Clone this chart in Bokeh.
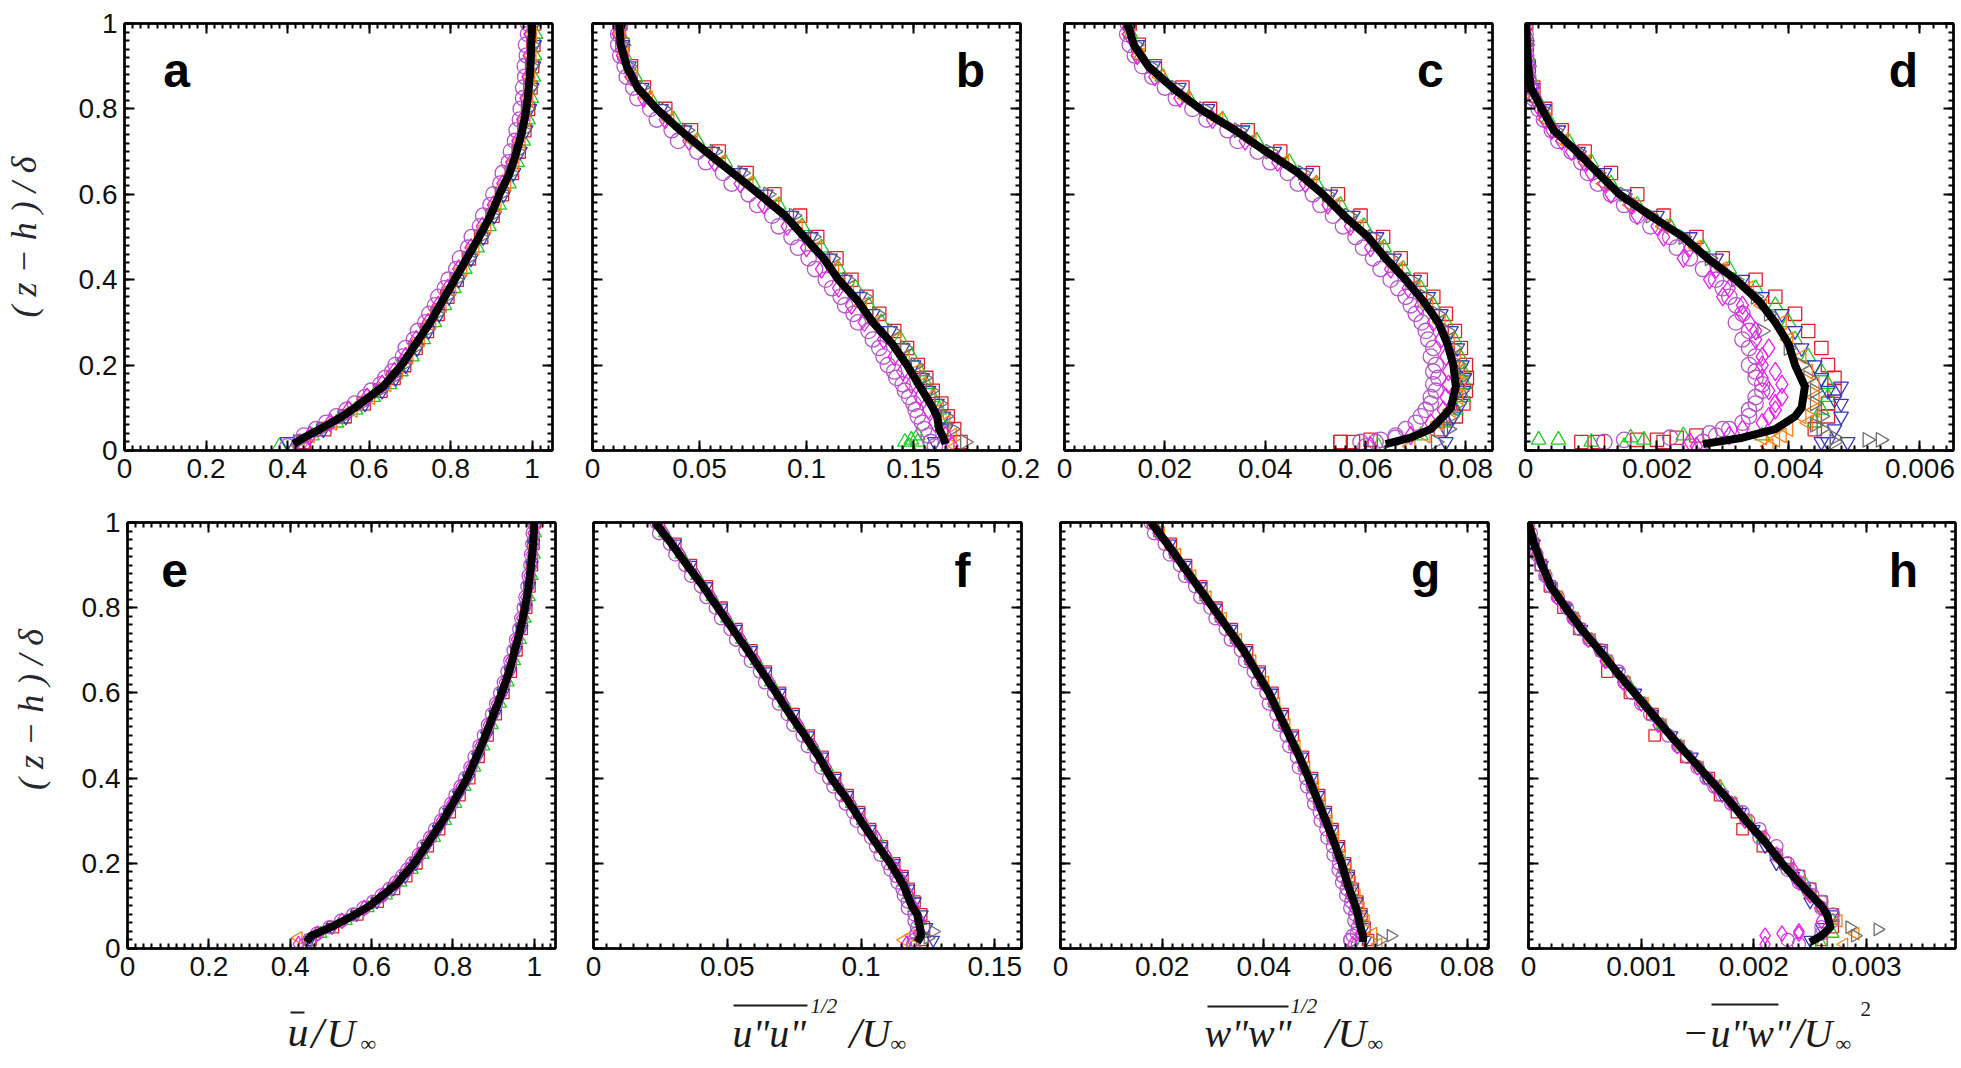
import math
from bokeh.plotting import figure
from bokeh.layouts import row, column
from bokeh.models import Range1d, LinearAxis, FixedTicker, CustomJSTickFormatter
from bokeh.core.properties import value
from bokeh.embed import file_html
from bokeh.resources import INLINE

# ------------------------------------------------------------------ data
Y_TICKS = [0, 0.2, 0.4, 0.6, 0.8, 1.0]
A_XTICKS = [0, 0.2, 0.4, 0.6, 0.8, 1.0]
B_XTICKS = [0, 0.05, 0.1, 0.15, 0.2]
C_XTICKS = [0, 0.02, 0.04, 0.06, 0.08]
D_XTICKS = [0, 0.002, 0.004, 0.006]
E_XTICKS = [0, 0.2, 0.4, 0.6, 0.8, 1.0]
F_XTICKS = [0, 0.05, 0.1, 0.15]
G_XTICKS = [0, 0.02, 0.04, 0.06, 0.08]
H_XTICKS = [0, 0.001, 0.002, 0.003]

Y_LABEL = "( z − h ) / δ"

# mean profile (thick black line), heights
Y_MEAN = [0.015, 0.03, 0.05, 0.08, 0.1, 0.15, 0.2, 0.25, 0.3, 0.35, 0.4, 0.45,
          0.5, 0.55, 0.6, 0.65, 0.7, 0.75, 0.8, 0.85, 0.9, 0.95, 1.0]
A_MEAN = [0.415, 0.44, 0.48, 0.535, 0.565, 0.635, 0.68, 0.715, 0.75, 0.78, 0.81, 0.84,
          0.87, 0.898, 0.92, 0.945, 0.962, 0.976, 0.986, 0.992, 0.996, 0.998, 1.0]
B_MEAN = [0.165, 0.164, 0.162, 0.161, 0.159, 0.153, 0.147, 0.14, 0.131, 0.124, 0.115, 0.108,
          0.099, 0.09, 0.078, 0.0655, 0.053, 0.041, 0.03, 0.021, 0.016, 0.0132, 0.0125]
C_MEAN = [0.064, 0.069, 0.073, 0.0755, 0.077, 0.078, 0.0775, 0.0763, 0.0745, 0.0715, 0.068, 0.064,
          0.0605, 0.0557, 0.0515, 0.0466, 0.0402, 0.034, 0.027, 0.0215, 0.0167, 0.0138, 0.0126]
D_MEAN = [0.0027, 0.0033, 0.0038, 0.0041, 0.0042, 0.00425, 0.0041, 0.004, 0.0038, 0.00355, 0.0032, 0.00277,
          0.0024, 0.0019, 0.00143, 0.0011, 0.00078, 0.00043, 0.00025, 0.00008, 0.00004, 0.00002, 0.00001]
E_MEAN = [0.44, 0.452, 0.5, 0.56, 0.595, 0.66, 0.705, 0.74, 0.775, 0.805, 0.835, 0.858,
          0.88, 0.9, 0.92, 0.938, 0.952, 0.966, 0.977, 0.986, 0.992, 0.997, 1.0]
F_MEAN = [0.121, 0.1225, 0.122, 0.121, 0.119, 0.1158, 0.111, 0.1053, 0.0999, 0.0948, 0.0889, 0.0842,
          0.079, 0.0734, 0.0683, 0.063, 0.0576, 0.052, 0.0465, 0.041, 0.035, 0.0292, 0.023]
G_MEAN = [0.0595, 0.0595, 0.059, 0.0585, 0.058, 0.0565, 0.0553, 0.0538, 0.0522, 0.0505, 0.0488, 0.047,
          0.045, 0.043, 0.041, 0.0385, 0.036, 0.033, 0.03, 0.027, 0.024, 0.021, 0.0178]
H_MEAN = [0.0025, 0.0026, 0.00268, 0.00265, 0.0026, 0.00242, 0.00225, 0.0021, 0.00193, 0.00177, 0.0016, 0.00143,
          0.00126, 0.0011, 0.00094, 0.00078, 0.00063, 0.00047, 0.00033, 0.0002, 0.00012, 0.00005, 0.0]

# heights of the individual-profile symbols
YS1 = [0.02, 0.05, 0.08, 0.11, 0.14, 0.17, 0.2, 0.24, 0.28, 0.32, 0.36, 0.4,
       0.45, 0.5, 0.55, 0.6, 0.65, 0.7, 0.75, 0.8, 0.85, 0.9, 0.95, 1.0]
YS2 = [0.01, 0.035, 0.065, 0.095, 0.125, 0.155, 0.185, 0.22, 0.26, 0.3, 0.34, 0.38,
       0.425, 0.475, 0.525, 0.575, 0.625, 0.675, 0.725, 0.775, 0.825, 0.875, 0.925, 0.975]

# panel a
A_CIRC = [0.43, 0.47, 0.52, 0.565, 0.605, 0.64, 0.665, 0.69, 0.72, 0.748, 0.77, 0.795,
          0.823, 0.852, 0.88, 0.905, 0.928, 0.948, 0.962, 0.972, 0.978, 0.982, 0.985, 0.99]
A_CIRC2 = [0.40, 0.44, 0.495, 0.545, 0.59, 0.628, 0.657, 0.683, 0.71, 0.738, 0.762, 0.786,
           0.814, 0.843, 0.872, 0.898, 0.922, 0.943, 0.958, 0.97, 0.978, 0.983, 0.987, 0.99]
A_DIAM = [0.44, 0.455, 0.505, 0.55, 0.595, 0.632, 0.662, 0.69, 0.716, 0.745, 0.77, 0.793,
          0.82, 0.85, 0.878, 0.905, 0.928, 0.95, 0.965, 0.977, 0.985, 0.99, 0.993, 0.995]
A_SQ = [0.44, 0.49, 0.54, 0.587, 0.628, 0.66, 0.686, 0.714, 0.742, 0.768, 0.792, 0.815,
        0.845, 0.875, 0.903, 0.926, 0.95, 0.967, 0.981, 0.99, 0.996, 1.0, 1.003, 1.005]
A_UP = [0.38, 0.46, 0.52, 0.567, 0.61, 0.65, 0.678, 0.705, 0.733, 0.76, 0.785, 0.808,
        0.835, 0.865, 0.894, 0.919, 0.943, 0.963, 0.978, 0.99, 0.998, 1.003, 1.006, 1.008]
A_DN = [0.4, 0.488, 0.543, 0.59, 0.632, 0.665, 0.69, 0.718, 0.746, 0.772, 0.796, 0.82,
        0.85, 0.88, 0.907, 0.93, 0.954, 0.97, 0.984, 0.993, 0.999, 1.003, 1.005, 1.006]
A_LT = [0.43, 0.455, 0.51, 0.56, 0.603, 0.643, 0.671, 0.697, 0.725, 0.753, 0.778, 0.802,
        0.829, 0.859, 0.888, 0.913, 0.937, 0.957, 0.972, 0.984, 0.991, 0.996, 0.999, 1.0]
A_RT = [0.425, 0.483, 0.538, 0.583, 0.625, 0.658, 0.683, 0.711, 0.739, 0.765, 0.789, 0.813,
        0.843, 0.873, 0.9, 0.923, 0.947, 0.964, 0.978, 0.988, 0.994, 0.998, 1.0, 1.002]

# panel b
B_CIRC = [0.158, 0.155, 0.152, 0.15, 0.146, 0.142, 0.138, 0.134, 0.129, 0.122, 0.116, 0.109,
          0.101, 0.093, 0.084, 0.073, 0.061, 0.049, 0.037, 0.027, 0.019, 0.015, 0.012, 0.013]
B_CIRC2 = [0.16, 0.157, 0.154, 0.151, 0.148, 0.145, 0.141, 0.136, 0.131, 0.124, 0.118, 0.112,
           0.104, 0.096, 0.087, 0.077, 0.065, 0.053, 0.04, 0.03, 0.021, 0.016, 0.013, 0.012]
B_DIAM = [0.168, 0.165, 0.16, 0.157, 0.153, 0.149, 0.145, 0.141, 0.136, 0.127, 0.121, 0.115,
          0.107, 0.1, 0.091, 0.08, 0.069, 0.057, 0.045, 0.034, 0.024, 0.018, 0.014, 0.012]
B_SQ = [0.172, 0.169, 0.166, 0.163, 0.159, 0.156, 0.152, 0.147, 0.141, 0.134, 0.128, 0.121,
        0.114, 0.105, 0.097, 0.085, 0.072, 0.059, 0.046, 0.034, 0.024, 0.018, 0.014, 0.013]
B_UP = [0.148, 0.152, 0.163, 0.162, 0.159, 0.156, 0.153, 0.149, 0.144, 0.135, 0.129, 0.123,
        0.115, 0.107, 0.098, 0.087, 0.075, 0.062, 0.049, 0.038, 0.027, 0.02, 0.015, 0.013]
B_DN = [0.16, 0.165, 0.164, 0.161, 0.157, 0.154, 0.15, 0.145, 0.139, 0.131, 0.125, 0.118,
        0.111, 0.102, 0.093, 0.081, 0.069, 0.056, 0.043, 0.032, 0.023, 0.017, 0.014, 0.013]
B_LT = [0.17, 0.168, 0.165, 0.162, 0.158, 0.154, 0.151, 0.146, 0.142, 0.132, 0.126, 0.12,
        0.113, 0.105, 0.096, 0.085, 0.073, 0.06, 0.047, 0.036, 0.026, 0.019, 0.015, 0.013]
B_RT = [0.174, 0.168, 0.165, 0.162, 0.158, 0.155, 0.151, 0.146, 0.14, 0.133, 0.127, 0.119,
        0.112, 0.103, 0.094, 0.082, 0.07, 0.057, 0.044, 0.033, 0.023, 0.017, 0.014, 0.013]
B_UP_BOT_X = [0.146, 0.149, 0.152]
B_UP_BOT_Y = [0.02, 0.025, 0.02]

# panel c
C_CIRC = [0.062, 0.068, 0.071, 0.073, 0.074, 0.0745, 0.074, 0.0735, 0.072, 0.07, 0.068, 0.065,
          0.0615, 0.058, 0.0535, 0.0495, 0.0445, 0.0385, 0.0325, 0.0255, 0.02, 0.0155, 0.013, 0.0126]
C_CIRC2 = [0.06, 0.066, 0.07, 0.072, 0.073, 0.0735, 0.0735, 0.073, 0.0725, 0.0712, 0.069, 0.0665,
           0.063, 0.0595, 0.0555, 0.051, 0.0465, 0.041, 0.0345, 0.0283, 0.0222, 0.0175, 0.014, 0.0125]
C_DIAM = [0.061, 0.069, 0.073, 0.0755, 0.076, 0.0765, 0.0765, 0.076, 0.075, 0.0735, 0.071, 0.0685,
          0.065, 0.061, 0.057, 0.0525, 0.048, 0.0425, 0.036, 0.0295, 0.023, 0.018, 0.0145, 0.0128]
C_SQ = [0.055, 0.075, 0.078, 0.0795, 0.08, 0.0802, 0.08, 0.079, 0.0778, 0.076, 0.0735, 0.071,
        0.067, 0.0635, 0.059, 0.0545, 0.0495, 0.043, 0.0365, 0.029, 0.0235, 0.018, 0.0148, 0.013]
C_UP = [0.0625, 0.071, 0.0755, 0.078, 0.0795, 0.0798, 0.0795, 0.0788, 0.0777, 0.076, 0.0735, 0.071,
        0.0675, 0.0637, 0.0597, 0.055, 0.0502, 0.0448, 0.0383, 0.0315, 0.0248, 0.0195, 0.0152, 0.0132]
C_DN = [0.076, 0.076, 0.0775, 0.079, 0.0795, 0.0797, 0.0792, 0.0783, 0.077, 0.075, 0.0725, 0.0697,
        0.0657, 0.0622, 0.0575, 0.053, 0.0482, 0.0418, 0.0355, 0.0285, 0.0228, 0.0177, 0.0145, 0.013]
C_LT = [0.069, 0.072, 0.0745, 0.077, 0.0785, 0.079, 0.0787, 0.078, 0.0768, 0.075, 0.0725, 0.07,
        0.0665, 0.0627, 0.0587, 0.054, 0.0494, 0.0438, 0.0373, 0.0307, 0.0242, 0.0191, 0.015, 0.0131]
C_RT = [0.074, 0.0765, 0.077, 0.0785, 0.079, 0.079, 0.0787, 0.0777, 0.0763, 0.0743, 0.0718, 0.069,
        0.065, 0.0615, 0.0567, 0.0523, 0.0475, 0.041, 0.0347, 0.0278, 0.0222, 0.0172, 0.0142, 0.0128]
C_SQ_BOT_X = [0.055, 0.0575, 0.061]
C_SQ_BOT_Y = [0.02, 0.02, 0.025]
C_CIRC_BOT_X = [0.059, 0.063, 0.066]
C_CIRC_BOT_Y = [0.02, 0.025, 0.03]

# panel d
D_CIRC = [0.0027, 0.0031, 0.0034, 0.0035, 0.0036, 0.0035, 0.0034, 0.0034, 0.0034, 0.0033, 0.0031, 0.0029,
          0.0025, 0.0022, 0.0017, 0.0013, 0.00095, 0.0007, 0.0004, 0.0002, 0.00008, 0.00003, 0.00001, 0.0]
D_CIRC2 = [0.0025, 0.0029, 0.0033, 0.0034, 0.0035, 0.0036, 0.0035, 0.0035, 0.0033, 0.0032, 0.0032, 0.003,
           0.0027, 0.0023, 0.0019, 0.0015, 0.0011, 0.00085, 0.0005, 0.00028, 0.00012, 0.00004, 0.00001, 0.0]
D_DIAM = [0.0026, 0.0031, 0.0036, 0.0038, 0.0039, 0.0039, 0.0038, 0.0036, 0.0035, 0.0034, 0.0033, 0.0031,
          0.0029, 0.0025, 0.002, 0.0016, 0.0012, 0.0009, 0.00055, 0.0003, 0.00014, 0.00005, 0.00002, 0.0]
D_DIAM2 = [0.0025, 0.0033, 0.0037, 0.0038, 0.0037, 0.0036, 0.0036, 0.0037, 0.0035, 0.0033, 0.003, 0.0028,
           0.0024, 0.0021, 0.0017, 0.0013, 0.001, 0.0007, 0.0004, 0.00022, 0.0001, 0.00003, 0.00001, 0.0]
D_SQ = [0.0021, 0.0044, 0.0046, 0.0046, 0.0047, 0.0047, 0.0046, 0.0045, 0.0043, 0.0041, 0.0038, 0.0035,
        0.003, 0.0026, 0.0021, 0.0017, 0.0013, 0.0009, 0.00055, 0.0003, 0.00012, 0.00005, 0.00002, 0.00001]
D_UP = [0.0015, 0.0036, 0.0044, 0.0045, 0.0046, 0.0046, 0.0045, 0.0043, 0.0041, 0.004, 0.0038, 0.0035,
        0.0031, 0.0027, 0.0022, 0.0017, 0.0013, 0.001, 0.00065, 0.00035, 0.00017, 0.00007, 0.00003, 0.00001]
D_DN = [0.0046, 0.0047, 0.0048, 0.0048, 0.0046, 0.0045, 0.0044, 0.0042, 0.0041, 0.0039, 0.0036, 0.0033,
        0.0029, 0.0025, 0.002, 0.0015, 0.0012, 0.0008, 0.0005, 0.00028, 0.0001, 0.00004, 0.00002, 0.0]
D_LT = [0.0037, 0.0039, 0.0043, 0.0044, 0.0044, 0.0044, 0.0043, 0.0042, 0.004, 0.0039, 0.0036, 0.0034,
        0.003, 0.0026, 0.0021, 0.0016, 0.0012, 0.00092, 0.00058, 0.00031, 0.00014, 0.00005, 0.00002, 0.0]
D_RT = [0.0047, 0.0045, 0.0045, 0.0044, 0.0044, 0.0043, 0.0042, 0.004, 0.0036, 0.0037, 0.0035, 0.0032,
        0.0028, 0.0024, 0.0019, 0.0015, 0.0011, 0.0008, 0.00045, 0.00025, 0.0001, 0.00004, 0.00001, 0.0]
D_UP_BOT_X = [0.0002, 0.0005, 0.001, 0.0016, 0.0018, 0.0024]
D_UP_BOT_Y = [0.025, 0.025, 0.02, 0.03, 0.025, 0.035]
D_SQ_BOT_X = [0.00085, 0.0011, 0.0017, 0.002, 0.0023, 0.0026]
D_SQ_BOT_Y = [0.02, 0.02, 0.025, 0.025, 0.03, 0.035]
D_CIRC_BOT_X = [0.0012, 0.0015, 0.0022, 0.0028, 0.003]
D_CIRC_BOT_Y = [0.02, 0.025, 0.03, 0.04, 0.05]
D_LT_BOT_X = [0.0036, 0.0038, 0.004, 0.0042]
D_LT_BOT_Y = [0.03, 0.025, 0.05, 0.08]
D_DN_BOT_X = [0.0045, 0.0049, 0.0047, 0.0048]
D_DN_BOT_Y = [0.02, 0.02, 0.12, 0.15]
D_RT_BOT_X = [0.0047, 0.0052, 0.0054, 0.0044]
D_RT_BOT_Y = [0.03, 0.025, 0.025, 0.06]

# panel e
E_CIRC = [0.447, 0.497, 0.555, 0.604, 0.644, 0.675, 0.7, 0.728, 0.756, 0.782, 0.806, 0.83,
          0.853, 0.876, 0.896, 0.916, 0.934, 0.949, 0.963, 0.974, 0.983, 0.99, 0.995, 0.999]
E_CIRC2 = [0.437, 0.466, 0.525, 0.58, 0.625, 0.66, 0.688, 0.716, 0.744, 0.771, 0.796, 0.819,
           0.843, 0.865, 0.886, 0.906, 0.925, 0.941, 0.955, 0.968, 0.978, 0.986, 0.992, 0.996]
E_DIAM = [0.42, 0.467, 0.527, 0.582, 0.627, 0.662, 0.69, 0.717, 0.745, 0.772, 0.797, 0.82,
          0.844, 0.866, 0.887, 0.907, 0.926, 0.942, 0.956, 0.969, 0.979, 0.987, 0.993, 0.997]
E_SQ = [0.45, 0.505, 0.565, 0.615, 0.655, 0.685, 0.71, 0.738, 0.766, 0.792, 0.816, 0.84,
        0.863, 0.885, 0.905, 0.924, 0.942, 0.956, 0.969, 0.98, 0.988, 0.994, 0.998, 1.001]
E_UP = [0.445, 0.475, 0.537, 0.591, 0.636, 0.671, 0.699, 0.726, 0.754, 0.781, 0.806, 0.829,
        0.853, 0.875, 0.896, 0.916, 0.935, 0.951, 0.965, 0.977, 0.987, 0.994, 0.999, 1.002]
E_DN = [0.448, 0.503, 0.563, 0.613, 0.653, 0.683, 0.708, 0.736, 0.764, 0.79, 0.814, 0.838,
        0.861, 0.883, 0.903, 0.923, 0.941, 0.955, 0.969, 0.979, 0.988, 0.994, 0.998, 1.0]
E_LT_BOT_X = [0.42]
E_LT_BOT_Y = [0.025]

# panel f
F_CIRC = [0.12, 0.121, 0.12, 0.1175, 0.1155, 0.1132, 0.1102, 0.1056, 0.1012, 0.0971, 0.0928, 0.0881,
          0.0834, 0.0782, 0.0726, 0.0675, 0.0622, 0.0568, 0.0512, 0.0457, 0.0402, 0.0343, 0.0286, 0.0235]
F_CIRC2 = [0.1195, 0.1207, 0.12, 0.1175, 0.116, 0.1137, 0.111, 0.1073, 0.1038, 0.0984, 0.0943, 0.0897,
           0.0851, 0.0801, 0.0747, 0.0693, 0.0641, 0.0588, 0.0533, 0.0477, 0.0422, 0.0365, 0.0306, 0.0245]
F_DIAM = [0.117, 0.1215, 0.122, 0.12, 0.118, 0.1157, 0.113, 0.1093, 0.1057, 0.1003, 0.0962, 0.0916,
          0.087, 0.082, 0.0766, 0.0712, 0.066, 0.0607, 0.0552, 0.0496, 0.0441, 0.0384, 0.0325, 0.0264]
F_SQ = [0.123, 0.1235, 0.1225, 0.12, 0.1178, 0.1155, 0.1124, 0.1078, 0.1034, 0.0993, 0.095, 0.0903,
        0.0856, 0.0804, 0.0748, 0.0697, 0.0644, 0.059, 0.0534, 0.0479, 0.0424, 0.0364, 0.0306, 0.0244]
F_UP = [0.12, 0.1225, 0.1222, 0.1198, 0.1182, 0.116, 0.1133, 0.1096, 0.106, 0.1006, 0.0965, 0.0919,
        0.0873, 0.0823, 0.0769, 0.0715, 0.0663, 0.061, 0.0555, 0.0499, 0.0444, 0.0387, 0.0328, 0.0267]
F_DN = [0.127, 0.1245, 0.1228, 0.1202, 0.1178, 0.1154, 0.1123, 0.1077, 0.1033, 0.0992, 0.0949, 0.0903,
        0.0855, 0.0803, 0.0747, 0.0696, 0.0643, 0.0589, 0.0533, 0.0478, 0.0423, 0.0363, 0.0305, 0.0243]
F_LT_BOT_X = [0.116, 0.119]
F_LT_BOT_Y = [0.02, 0.03]
F_RT_BOT_X = [0.125, 0.127]
F_RT_BOT_Y = [0.025, 0.04]

# panel g
G_CIRC = [0.057, 0.0585, 0.058, 0.0572, 0.0563, 0.0555, 0.0548, 0.0536, 0.0523, 0.051, 0.0497, 0.0483,
          0.0465, 0.0445, 0.0425, 0.0405, 0.038, 0.0355, 0.0325, 0.0295, 0.0265, 0.0235, 0.0205, 0.0177]
G_CIRC2 = [0.0585, 0.0583, 0.0578, 0.057, 0.0562, 0.0554, 0.0547, 0.0537, 0.0525, 0.0512, 0.0499, 0.0485,
           0.0469, 0.045, 0.043, 0.041, 0.0388, 0.0363, 0.0335, 0.0305, 0.0275, 0.0245, 0.0215, 0.0184]
G_DIAM = [0.0575, 0.059, 0.0586, 0.0578, 0.057, 0.0562, 0.0555, 0.0545, 0.0533, 0.052, 0.0507, 0.0493,
          0.0477, 0.0458, 0.0438, 0.0418, 0.0396, 0.0371, 0.0343, 0.0313, 0.0283, 0.0253, 0.0223, 0.0192]
G_SQ = [0.0605, 0.0598, 0.0592, 0.0584, 0.0575, 0.0567, 0.056, 0.0548, 0.0535, 0.0522, 0.0509, 0.0495,
        0.0477, 0.0457, 0.0437, 0.0417, 0.0392, 0.0367, 0.0337, 0.0307, 0.0277, 0.0247, 0.0217, 0.0182]
G_UP = [0.0593, 0.0592, 0.0589, 0.0581, 0.0573, 0.0565, 0.0558, 0.0548, 0.0536, 0.0523, 0.051, 0.0496,
        0.048, 0.0461, 0.0441, 0.0421, 0.0399, 0.0374, 0.0346, 0.0316, 0.0286, 0.0256, 0.0226, 0.0195]
G_DN = [0.06, 0.0597, 0.0591, 0.0583, 0.0574, 0.0566, 0.0558, 0.0546, 0.0533, 0.052, 0.0507, 0.0493,
        0.0475, 0.0455, 0.0435, 0.0415, 0.039, 0.0365, 0.0335, 0.0305, 0.0275, 0.0245, 0.0215, 0.0181]
G_LT = [0.0625, 0.0615, 0.06, 0.059, 0.0582, 0.0573, 0.0565, 0.0553, 0.054, 0.0527, 0.0514, 0.05,
        0.0483, 0.0464, 0.0444, 0.0424, 0.0402, 0.0377, 0.0349, 0.0319, 0.0289, 0.0259, 0.0229, 0.0197]
G_RT_BOT_X = [0.063, 0.065]
G_RT_BOT_Y = [0.02, 0.03]
G_CIRC_BOT_X = [0.057, 0.0575]
G_CIRC_BOT_Y = [0.02, 0.03]

# panel h
H_CIRC = [0.0023, 0.0026, 0.0027, 0.0026, 0.0025, 0.0024, 0.0023, 0.0022, 0.00205, 0.0019, 0.00172, 0.00158,
          0.00141, 0.00124, 0.00108, 0.00092, 0.0008, 0.00064, 0.00046, 0.00034, 0.0002, 0.00011, 0.00004, 0.0]
H_CIRC2 = [0.0024, 0.0026, 0.0027, 0.0026, 0.00252, 0.0024, 0.0023, 0.0022, 0.00205, 0.00195, 0.0018, 0.00165,
           0.0015, 0.00133, 0.00117, 0.001, 0.00085, 0.0007, 0.00054, 0.0004, 0.00026, 0.00015, 0.00007, 0.00002]
H_DIAM = [0.0021, 0.0024, 0.0026, 0.0026, 0.0025, 0.0024, 0.00235, 0.0022, 0.0021, 0.00192, 0.0018, 0.00165,
          0.0015, 0.00132, 0.00115, 0.001, 0.00084, 0.00068, 0.00053, 0.00039, 0.00025, 0.00015, 0.00007, 0.00001]
H_SQ = [0.0026, 0.0027, 0.0027, 0.0026, 0.0025, 0.0024, 0.00228, 0.00208, 0.0019, 0.00185, 0.0017, 0.0016,
        0.0014, 0.00112, 0.0011, 0.0009, 0.0007, 0.00065, 0.00045, 0.00031, 0.00019, 0.00011, 0.00004, 0.0]
H_UP = [0.0026, 0.0027, 0.0027, 0.0026, 0.00252, 0.00245, 0.00233, 0.0022, 0.00208, 0.00195, 0.00183, 0.0017,
        0.00152, 0.00135, 0.00119, 0.00103, 0.00088, 0.00071, 0.00056, 0.00041, 0.00027, 0.00015, 0.00008, 0.00002]
H_DN = [0.0025, 0.0026, 0.0027, 0.0025, 0.00245, 0.00235, 0.0022, 0.0021, 0.002, 0.00188, 0.00172, 0.00158,
        0.00145, 0.00127, 0.0011, 0.00095, 0.00079, 0.00063, 0.00047, 0.00033, 0.0002, 0.00012, 0.00005, 0.0]
H_LT = [0.0028, 0.0029, 0.00275, 0.0026, 0.0025, 0.00242, 0.00232, 0.00222, 0.00208, 0.00195, 0.00182, 0.00168,
        0.00152, 0.00135, 0.00119, 0.00103, 0.00087, 0.00071, 0.00056, 0.00041, 0.00027, 0.00016, 0.00008, 0.00002]
H_DIAM_BOT_X = [0.0021, 0.00225, 0.0024]
H_DIAM_BOT_Y = [0.03, 0.035, 0.04]
H_RT_BOT_X = [0.0029, 0.0031, 0.00285]
H_RT_BOT_Y = [0.03, 0.045, 0.05]

# ------------------------------------------------------------------ styles
ORCHID = "#b455c8"
MAGENTA = "#ee1cee"
RED = "#e0202a"
GREEN = "#1ecb1e"
BLUE = "#3535c2"
ORANGE = "#ff7f10"
GRAY = "#6e6e6e"

STYLE = {
    "sq":   dict(marker="square", angle=0.0, color=RED, grid=YS1, k=0.95),
    "up":   dict(marker="triangle", angle=0.0, color=GREEN, grid=YS2, k=1.05),
    "dn":   dict(marker="inverted_triangle", angle=0.0, color=BLUE, grid=YS1, k=1.05),
    "lt":   dict(marker="triangle", angle=math.pi / 2, color=ORANGE, grid=YS2, k=1.05),
    "rt":   dict(marker="triangle", angle=-math.pi / 2, color=GRAY, grid=YS1, k=1.05),
    "circ": dict(marker="circle", angle=0.0, color=ORCHID, grid=YS1, k=1.1),
    "diam": dict(marker="diamond", angle=0.0, color=MAGENTA, grid=YS2, k=1.3),
}
DRAW_ORDER = ["sq", "up", "dn", "lt", "rt", "circ", "diam"]

PANELS = [
    dict(letter="a", xend=1.05, xticks=A_XTICKS, mean=A_MEAN, lpos=(0.122, 0.89),
         series=dict(circ=A_CIRC, diam=A_DIAM, sq=A_SQ, up=A_UP, dn=A_DN, lt=A_LT, rt=A_RT),
         extras=[("circ", A_CIRC2, YS2)]),
    dict(letter="b", xend=0.2, xticks=B_XTICKS, mean=B_MEAN, lpos=(0.883, 0.89),
         series=dict(circ=B_CIRC, diam=B_DIAM, sq=B_SQ, up=B_UP, dn=B_DN, lt=B_LT, rt=B_RT),
         extras=[("up", B_UP_BOT_X, B_UP_BOT_Y), ("circ", B_CIRC2, YS2)]),
    dict(letter="c", xend=0.0853, xticks=C_XTICKS, mean=C_MEAN, lpos=(0.855, 0.89),
         series=dict(circ=C_CIRC, diam=C_DIAM, sq=C_SQ, up=C_UP, dn=C_DN, lt=C_LT, rt=C_RT),
         extras=[("sq", C_SQ_BOT_X, C_SQ_BOT_Y), ("circ", C_CIRC_BOT_X, C_CIRC_BOT_Y),
                 ("circ", C_CIRC2, YS2)]),
    dict(letter="d", xend=0.00651, xticks=D_XTICKS, mean=D_MEAN, lpos=(0.883, 0.89),
         series=dict(circ=D_CIRC, diam=D_DIAM, sq=D_SQ, up=D_UP, dn=D_DN, lt=D_LT, rt=D_RT),
         extras=[("up", D_UP_BOT_X, D_UP_BOT_Y), ("sq", D_SQ_BOT_X, D_SQ_BOT_Y),
                 ("circ", D_CIRC_BOT_X, D_CIRC_BOT_Y), ("lt", D_LT_BOT_X, D_LT_BOT_Y),
                 ("dn", D_DN_BOT_X, D_DN_BOT_Y), ("rt", D_RT_BOT_X, D_RT_BOT_Y),
                 ("circ", D_CIRC2, YS2), ("diam", D_DIAM2, YS1)]),
    dict(letter="e", xend=1.052, xticks=E_XTICKS, mean=E_MEAN, lpos=(0.11, 0.887),
         series=dict(circ=E_CIRC, diam=E_DIAM, sq=E_SQ, up=E_UP, dn=E_DN),
         extras=[("lt", E_LT_BOT_X, E_LT_BOT_Y), ("circ", E_CIRC2, YS2)]),
    dict(letter="f", xend=0.16, xticks=F_XTICKS, mean=F_MEAN, lpos=(0.862, 0.887),
         series=dict(circ=F_CIRC, diam=F_DIAM, sq=F_SQ, up=F_UP, dn=F_DN),
         extras=[("lt", F_LT_BOT_X, F_LT_BOT_Y), ("rt", F_RT_BOT_X, F_RT_BOT_Y), ("circ", F_CIRC2, YS2)]),
    dict(letter="g", xend=0.0842, xticks=G_XTICKS, mean=G_MEAN, lpos=(0.853, 0.887),
         series=dict(circ=G_CIRC, diam=G_DIAM, sq=G_SQ, up=G_UP, dn=G_DN, lt=G_LT),
         extras=[("rt", G_RT_BOT_X, G_RT_BOT_Y), ("circ", G_CIRC_BOT_X, G_CIRC_BOT_Y), ("circ", G_CIRC2, YS2)]),
    dict(letter="h", xend=0.00379, xticks=H_XTICKS, mean=H_MEAN, lpos=(0.878, 0.887),
         series=dict(circ=H_CIRC, diam=H_DIAM, sq=H_SQ, up=H_UP, dn=H_DN, lt=H_LT),
         extras=[("diam", H_DIAM_BOT_X, H_DIAM_BOT_Y), ("rt", H_RT_BOT_X, H_RT_BOT_Y), ("circ", H_CIRC2, YS2)]),
]

# layout (px, page origin at top-left): left border, frame width, right border
ROW1_GEOM = [(122, 428, 20), (20, 428, 22), (22, 428, 16), (17, 428, 4)]
ROW2_LABEL_W = 60
ROW2_GEOM = [(127 - ROW2_LABEL_W, 428, 19), (19, 428, 19), (20, 428, 20), (20, 427, 3)]
ROW1_V = (23, 427, 50)
ROW2_V = (22, 426, 42)
ROW2_YLABEL_POS = (30, 687)   # page px, centre of the rotated row-2 y label

FMT_JS = "return String(Number(tick.toPrecision(6)));"
EMPTY_JS = "return '';"
YLAB_FONT = "Liberation Serif"
YLAB_SIZE = "36px"
YLAB_COLOR = "#26262e"


def minor_list(ticks, end):
    step = ticks[1] / 10.0
    n = int(end / step + 1e-9)
    return [i * step for i in range(n + 1)]


def style_axis(ax, ticker, show_labels):
    ax.ticker = ticker
    ax.axis_line_width = 2.5
    ax.axis_line_color = "black"
    ax.major_tick_in = 10
    ax.major_tick_out = 0
    ax.minor_tick_in = 5
    ax.minor_tick_out = 0
    ax.major_tick_line_width = 2
    ax.minor_tick_line_width = 2
    ax.major_tick_line_color = "black"
    ax.minor_tick_line_color = "black"
    if show_labels:
        ax.formatter = CustomJSTickFormatter(code=FMT_JS)
        ax.major_label_text_font = "Liberation Sans"
        ax.major_label_text_font_size = "28px"
        ax.major_label_text_color = "#111111"
    else:
        ax.formatter = CustomJSTickFormatter(code=EMPTY_JS)
        ax.major_label_text_font_size = "0px"
        ax.major_label_standoff = 0


def make_panel(spec, geom, vgeom, first_col, msize, rowi):
    lb, fw, rb = geom
    tb, fh, bb = vgeom
    p = figure(frame_width=fw, frame_height=fh,
               x_range=Range1d(0, spec["xend"]), y_range=Range1d(0, 1),
               output_backend="svg", toolbar_location=None,
               min_border_left=lb, min_border_right=rb,
               min_border_top=tb, min_border_bottom=bb,
               background_fill_color="white", border_fill_color="white")
    p.xgrid.visible = False
    p.ygrid.visible = False
    p.outline_line_color = "black"
    p.outline_line_width = 2

    xt = FixedTicker(ticks=spec["xticks"], minor_ticks=minor_list(spec["xticks"], spec["xend"]))
    yt = FixedTicker(ticks=Y_TICKS, minor_ticks=minor_list(Y_TICKS, 1.0))

    style_axis(p.xaxis[0], xt, True)
    p.xaxis[0].major_label_standoff = 8
    style_axis(p.yaxis[0], yt, first_col)
    if first_col:
        p.yaxis[0].major_label_standoff = 7
        if rowi == 0:
            p.yaxis[0].axis_label = Y_LABEL
            p.yaxis[0].axis_label_text_font = YLAB_FONT
            p.yaxis[0].axis_label_text_font_style = "italic"
            p.yaxis[0].axis_label_text_font_size = YLAB_SIZE
            p.yaxis[0].axis_label_text_color = YLAB_COLOR
            p.yaxis[0].axis_label_standoff = 32

    top = LinearAxis()
    style_axis(top, FixedTicker(ticks=spec["xticks"], minor_ticks=minor_list(spec["xticks"], spec["xend"])), False)
    p.add_layout(top, "above")
    right = LinearAxis()
    style_axis(right, FixedTicker(ticks=Y_TICKS, minor_ticks=minor_list(Y_TICKS, 1.0)), False)
    p.add_layout(right, "right")

    for key in DRAW_ORDER:
        st = STYLE[key]
        if key in spec["series"]:
            xs = spec["series"][key]
            ys = st["grid"][:len(xs)]
            xs = xs[:len(ys)]
            p.scatter(x=xs, y=ys, marker=st["marker"], angle=st["angle"], size=msize * st["k"],
                      fill_color=None, line_color=st["color"], line_width=1.3)
        for (ek, ex, ey) in spec["extras"]:
            if ek == key:
                n = min(len(ex), len(ey))
                p.scatter(x=ex[:n], y=ey[:n], marker=st["marker"], angle=st["angle"], size=msize * st["k"],
                          fill_color=None, line_color=st["color"], line_width=1.3)

    p.line(x=spec["mean"], y=Y_MEAN, line_width=8, line_color="black", line_join="round")

    p.text(x=[spec["lpos"][0] * spec["xend"]], y=[spec["lpos"][1]], text=[spec["letter"]],
           text_font=value("Liberation Sans"), text_font_style="bold", text_font_size="48px",
           text_align="center", text_baseline="middle", text_color="black")
    return p


row1 = [make_panel(PANELS[i], ROW1_GEOM[i], ROW1_V, i == 0, 14, 0) for i in range(4)]
row2 = [make_panel(PANELS[4 + i], ROW2_GEOM[i], ROW2_V, i == 0, 12, 1) for i in range(4)]

# ------------------------------------------------------------------ row-2 y-label column
ROW2_TOP = sum(ROW1_V)
ROW2_H = sum(ROW2_V)
ylab2 = figure(frame_width=ROW2_LABEL_W, frame_height=ROW2_H,
               x_range=Range1d(0, ROW2_LABEL_W), y_range=Range1d(ROW2_TOP + ROW2_H, ROW2_TOP),
               output_backend="svg", toolbar_location=None,
               x_axis_type=None, y_axis_type=None,
               min_border_left=0, min_border_right=0, min_border_top=0, min_border_bottom=0,
               background_fill_color="white", border_fill_color="white")
ylab2.outline_line_color = None
ylab2.text(x=[ROW2_YLABEL_POS[0]], y=[ROW2_YLABEL_POS[1]], text=[Y_LABEL], angle=math.pi / 2,
           text_font=value(YLAB_FONT), text_font_style="italic", text_font_size=YLAB_SIZE,
           text_color=YLAB_COLOR, text_align="center", text_baseline="middle")

# ------------------------------------------------------------------ x-axis labels strip
STRIP_TOP = sum(ROW1_V) + sum(ROW2_V)
STRIP_H = 74
STRIP_W = ROW2_LABEL_W + sum(sum(g) for g in ROW2_GEOM)
strip = figure(frame_width=STRIP_W, frame_height=STRIP_H,
               x_range=Range1d(0, STRIP_W), y_range=Range1d(STRIP_TOP + STRIP_H, STRIP_TOP),
               output_backend="svg", toolbar_location=None,
               x_axis_type=None, y_axis_type=None,
               min_border_left=0, min_border_right=0, min_border_top=0, min_border_bottom=0,
               background_fill_color="white", border_fill_color="white")
strip.outline_line_color = None

LBL_COLOR = "#1a1a1a"
# (text, x-left, baseline, size px, style)
PIECES = [
    ("u", 287, 1046, 42, "italic"), ("/", 311, 1048, 44, "italic"), ("U", 326, 1046, 40, "italic"),
    ("∞", 360, 1050, 22, "normal"),
    ("u\"u\"", 732, 1046, 40, "italic"), ("1/2", 810, 1013, 21, "italic"), ("/", 849, 1048, 44, "italic"),
    ("U", 861, 1046, 40, "italic"), ("∞", 890, 1050, 22, "normal"),
    ("w\"w\"", 1204, 1046, 40, "italic"), ("1/2", 1290, 1013, 21, "italic"), ("/", 1325, 1048, 44, "italic"),
    ("U", 1337, 1046, 40, "italic"), ("∞", 1367, 1050, 22, "normal"),
    ("−", 1684, 1046, 40, "normal"), ("u\"w\"", 1710, 1046, 40, "italic"), ("/", 1791, 1048, 44, "italic"),
    ("U", 1803, 1046, 40, "italic"), ("∞", 1835, 1050, 22, "normal"), ("2", 1860, 1016, 21, "normal"),
]
OVERLINES = [(290, 304, 1012), (733, 807, 1005), (1207, 1288, 1006), (1711, 1778, 1004)]
MID_SHIFT = 0.3375  # em distance from alphabetic baseline up to em-box middle (Liberation Serif)

for (t, x, y, s, sty) in PIECES:
    strip.text(x=[x], y=[y - MID_SHIFT * s], text=[t], text_font=value("Liberation Serif"),
               text_font_style=sty, text_font_size=f"{s}px", text_align="left",
               text_baseline="middle", text_color=LBL_COLOR)
strip.segment(x0=[o[0] for o in OVERLINES], y0=[o[2] for o in OVERLINES],
              x1=[o[1] for o in OVERLINES], y1=[o[2] for o in OVERLINES],
              line_width=2, line_color=LBL_COLOR)

layout = column(row(*row1), row(ylab2, *row2), strip)
open("out.html", "w").write(file_html(layout, INLINE))
